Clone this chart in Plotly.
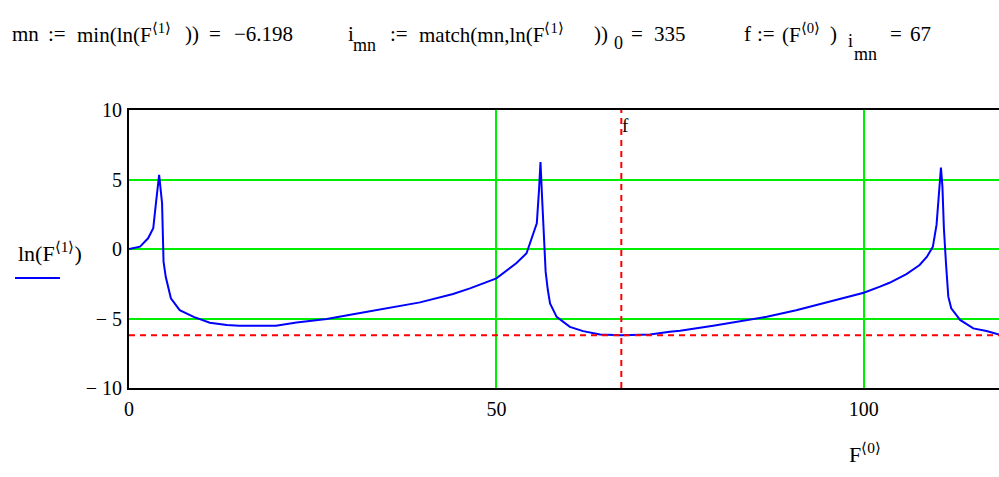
import plotly.graph_objects as go

# ---- data ----
freq = [0, 1.5, 2.6, 3.3, 3.7, 4.1, 4.5, 4.7, 5.0, 5.7, 6.9, 8.8, 11.0, 13.3, 15, 17, 20,
        22.8, 26.9, 30.5, 35.1, 39.6, 44.1, 46.4, 50, 52.7, 54.1, 55.0, 55.5, 55.8, 56.0,
        56.2, 56.5, 56.7, 57.0, 57.3, 58.2, 60, 61.8, 64.1, 67, 70.9, 73.6, 75, 79.5, 84,
        86.8, 90.8, 95.4, 100, 102.2, 103.5, 105.8, 107.6, 108.6, 109.4, 109.9, 110.2,
        110.5, 110.7, 110.9, 111.2, 111.5, 111.9, 113.1, 114.9, 116.7, 118.4]
ln_amp = [0, 0.17, 0.77, 1.49, 3.46, 5.33, 3.29, -0.91, -2.0, -3.55, -4.4, -4.88, -5.3,
          -5.47, -5.52, -5.53, -5.52, -5.28, -5.04, -4.7, -4.27, -3.84, -3.24, -2.83,
          -2.11, -1.03, -0.31, 1.13, 1.85, 4.25, 6.25, 3.89, 0.89, -1.63, -2.95, -3.91,
          -4.88, -5.6, -5.91, -6.15, -6.198, -6.15, -5.96, -5.88, -5.52, -5.12, -4.88,
          -4.4, -3.8, -3.15, -2.71, -2.43, -1.8, -1.15, -0.55, 0.17, 1.73, 3.77, 5.86,
          4.49, 1.49, -1.15, -3.43, -4.27, -5.1, -5.71, -5.9, -6.15]
mn = -6.198
i_mn = 335
f_min = 67
x_ticks = [0, 50, 100]
x_ticktext = ["0", "50", "100"]
y_ticks = [-10, -5, 0, 5, 10]
y_ticktext = ["\u2212 10", "\u2212 5", "0", "5", "10"]

W, H = 999, 477
L, R, T, B = 129, 0, 110, 89
X_RANGE = [0, 118.4]
Y_RANGE = [-10, 10]

def px(xp):
    return (xp - L) / (W - L - R)

def py(yp):
    return (H - B - yp) / (H - T - B)

SERIF = "Liberation Serif, Times New Roman, serif"
GREEN = "#00ee00"
FS = 21

fig = go.Figure()
fig.add_trace(go.Scatter(x=freq, y=ln_amp, mode="lines",
                         line=dict(color="#0000ff", width=2), showlegend=False,
                         hoverinfo="skip"))

fig.add_trace(go.Scatter(x=X_RANGE, y=[mn, mn], mode="lines",
                         line=dict(color="#ff0000", width=2, dash="6px,5px"),
                         showlegend=False, hoverinfo="skip"))
fig.add_trace(go.Scatter(x=[f_min, f_min], y=Y_RANGE, mode="lines",
                         line=dict(color="#ff0000", width=2, dash="6px,5px"),
                         showlegend=False, hoverinfo="skip"))

fig.update_layout(
    width=W, height=H,
    margin=dict(l=L, r=R, t=T, b=B),
    plot_bgcolor="white", paper_bgcolor="white",
    font=dict(family=SERIF, size=20, color="black"),
    xaxis=dict(range=X_RANGE, tickvals=x_ticks, ticktext=x_ticktext,
               showgrid=True, gridcolor=GREEN, gridwidth=2,
               showline=True, linecolor="black", linewidth=2, mirror=True,
               zeroline=False, ticks="", ticklabelstandoff=2,
               tickfont=dict(family=SERIF, size=20)),
    yaxis=dict(range=Y_RANGE, tickvals=y_ticks, ticktext=y_ticktext,
               showgrid=True, gridcolor=GREEN, gridwidth=2,
               showline=True, linecolor="black", linewidth=2,
               zeroline=False, ticks="", ticklabelstandoff=1,
               tickfont=dict(family=SERIF, size=20)),
)

ann = []
def add_text(txt, xp, yp, size=FS, xanchor="left", yanchor="middle", color="black"):
    ann.append(dict(text=txt, x=px(xp), y=py(yp), xref="paper", yref="paper",
                    xanchor=xanchor, yanchor=yanchor, showarrow=False,
                    font=dict(family=SERIF, size=size, color=color)))

Y0 = 34
SUP1 = "<sup>\u27e81\u27e9</sup>"
SUP0 = "<sup>\u27e80\u27e9</sup>"
# formula 1
add_text("mn", 10, Y0)
add_text(":=", 46, Y0)
add_text("min(ln(F" + SUP1, 75, Y0)
add_text("))", 183, Y0)
add_text("=", 207, Y0)
add_text("\u2212" + f"{mn:.3f}".lstrip("-"), 232, Y0)
# formula 2
add_text("i", 346, Y0)
add_text("mn", 351, 45, size=18)
add_text(":=", 388, Y0)
add_text("match(mn,ln(F" + SUP1, 417, Y0)
add_text("))", 592, Y0)
add_text("0", 612, 43, size=18)
add_text("=", 629, Y0)
add_text(str(i_mn), 652, Y0)
# formula 3
add_text("f", 742, Y0)
add_text(":=", 755, Y0)
add_text("(F" + SUP0, 780, Y0)
add_text(")", 828, Y0)
add_text("i", 846, 41, size=18)
add_text("mn", 852, 54, size=18)
add_text("=", 888, Y0)
add_text(str(f_min), 908, Y0)

add_text("ln(F" + SUP1 + ")", 16, 252, size=22)
add_text("F" + SUP0, 847, 453, size=22)
add_text("f", 620, 125, size=19)

fig.update_layout(annotations=ann)
fig.add_shape(type="line", xref="paper", yref="paper",
              x0=px(15), x1=px(60), y0=py(278), y1=py(278),
              line=dict(color="#0000ff", width=2))

fig.write_html("out.html", config={"displayModeBar": False},
               post_script="document.body.style.margin='0';document.body.style.overflow='hidden';")
